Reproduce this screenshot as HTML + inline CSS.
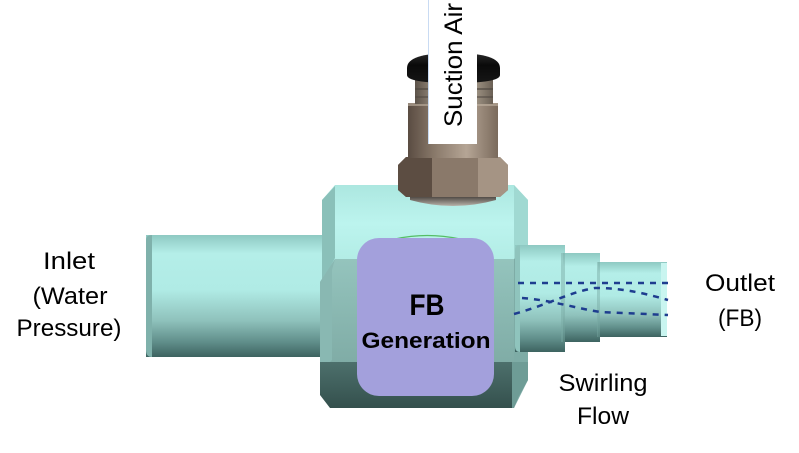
<!DOCTYPE html>
<html><head><meta charset="utf-8"><style>
html,body{margin:0;padding:0;background:#fff;}
svg{display:block;}
text{font-family:"Liberation Sans",Arial,sans-serif;}
</style></head><body>
<svg width="799" height="453" viewBox="0 0 799 453" xmlns="http://www.w3.org/2000/svg">
<defs>
<linearGradient id="pipeV" x1="0" y1="0" x2="0" y2="1">
<stop offset="0" stop-color="#8ec9c2"/>
<stop offset="0.15" stop-color="#b4eee8"/>
<stop offset="0.45" stop-color="#b0ebe5"/>
<stop offset="0.7" stop-color="#8fc2bc"/>
<stop offset="0.88" stop-color="#5f8d89"/>
<stop offset="1" stop-color="#3d6360"/>
</linearGradient>
<linearGradient id="topBlock" x1="0" y1="0" x2="0" y2="1">
<stop offset="0" stop-color="#ace7e0"/>
<stop offset="0.5" stop-color="#bcf4ee"/>
<stop offset="1" stop-color="#b2ece5"/>
</linearGradient>
<linearGradient id="hexFace" x1="0" y1="0" x2="0" y2="1">
<stop offset="0" stop-color="#94c4bd"/>
<stop offset="1" stop-color="#7eaaa4"/>
</linearGradient>
<linearGradient id="bottomFace" x1="0" y1="0" x2="0" y2="1">
<stop offset="0" stop-color="#4d706c"/>
<stop offset="1" stop-color="#34504d"/>
</linearGradient>
<linearGradient id="brownH" x1="0" y1="0" x2="1" y2="0">
<stop offset="0" stop-color="#5a4c42"/>
<stop offset="0.3" stop-color="#8a7a6b"/>
<stop offset="0.65" stop-color="#b5a595"/>
<stop offset="1" stop-color="#7a6a5c"/>
</linearGradient>
<linearGradient id="neckH" x1="0" y1="0" x2="1" y2="0">
<stop offset="0" stop-color="#5c534a"/>
<stop offset="0.3" stop-color="#a39686"/>
<stop offset="0.7" stop-color="#b0a493"/>
<stop offset="1" stop-color="#6a6055"/>
</linearGradient>
<linearGradient id="capG" x1="0" y1="0" x2="0" y2="1">
<stop offset="0" stop-color="#2a2a2a"/>
<stop offset="0.4" stop-color="#0a0a0a"/>
<stop offset="1" stop-color="#161616"/>
</linearGradient>
<linearGradient id="washer" x1="0" y1="0" x2="0" y2="1">
<stop offset="0" stop-color="#3b3530"/>
<stop offset="1" stop-color="#b8b2aa"/>
</linearGradient>
</defs>

<!-- Left inlet pipe -->
<rect x="146" y="235" width="190" height="122" fill="url(#pipeV)"/>
<path d="M146,240 Q146,235 152,235 L152,357 Q146,357 146,350 Z" fill="#7fb1ab"/>

<!-- Main body -->
<path d="M322,200 L335,185 L514,185 L528,200 L528,262 L322,262 Z" fill="url(#topBlock)"/>
<path d="M322,200 L335,186 L335,258 L322,282 Z" fill="#8ac0b9"/>
<path d="M514,185 L528,200 L528,262 L514,262 Z" fill="#a0d9d2"/>
<!-- hex face -->
<path d="M335,259 L514,259 L528,285 L528,372 L320,372 L320,282 Z" fill="url(#hexFace)"/>
<path d="M335,259 L320,282 L320,372 L332,360 L332,270 Z" fill="#89b8b2"/>
<!-- right facet -->
<path d="M514,259 L528,250 L528,380 L514,408 Z" fill="#7eaca6"/>
<path d="M500,372 L528,372 L514,408 L500,408 Z" fill="#6c9893"/>
<!-- bottom -->
<path d="M320,362 L514,362 L512,408 L330,408 L320,395 Z" fill="url(#bottomFace)"/>
<path d="M512,362 L528,362 L528,380 L512,408 Z" fill="#6e9c96"/>

<!-- Right outlet pipe -->
<rect x="515" y="245" width="50" height="107" fill="url(#pipeV)"/>
<path d="M515,250 Q515,245 520,245 L520,352 Q515,352 515,346 Z" fill="#8fc4bd"/>
<rect x="563" y="253" width="37" height="89" fill="url(#pipeV)"/>
<path d="M561,253 L565,253 L565,342 L561,342 Z" fill="#78a8a2" opacity="0.45"/>
<rect x="598" y="262" width="69" height="75" fill="url(#pipeV)"/>
<path d="M597,262 L600,262 L600,337 L597,337 Z" fill="#78a8a2" opacity="0.45"/>
<rect x="661" y="263" width="6" height="73" fill="#c9f5f0"/>
<!-- dashed swirl lines -->
<g fill="none" stroke="#1e3d8f" stroke-width="2.5" stroke-dasharray="6,6">
<path d="M518,283 L668,283"/>
<path d="M514,314 C550,304 570,292 595,288 C620,288 640,292 668,300"/>
<path d="M522,298 C550,300 575,308 600,312 L668,315"/>
</g>

<!-- Fitting washer -->
<path d="M410,195 L496,195 L496,200 Q453,212 410,200 Z" fill="url(#washer)"/>
<!-- Nut -->
<path d="M398,165 L406,157 L500,157 L508,165 L508,190 L500,197 L406,197 L398,190 Z" fill="#8d7d6d"/>
<path d="M398,165 L406,157 L432,157 L432,197 L406,197 L398,190 Z" fill="#5c4d42"/>
<path d="M478,157 L500,157 L508,165 L508,190 L500,197 L478,197 Z" fill="#a59484"/>
<rect x="432" y="157" width="46" height="40" fill="#8a796a"/>
<!-- Cylinder body -->
<rect x="408" y="103" width="90" height="55" fill="url(#brownH)"/>
<rect x="408" y="103" width="90" height="3" fill="#c2b4a4" opacity="0.6"/>
<!-- Neck -->
<rect x="415" y="80" width="78" height="24" fill="url(#neckH)"/>
<rect x="415" y="88" width="78" height="2" fill="#4d463f" opacity="0.6"/>
<rect x="415" y="96" width="78" height="2" fill="#4d463f" opacity="0.5"/>
<!-- Black cap -->
<path d="M407,68 Q407,53 453,53 Q500,53 500,68 L500,75 Q500,83 453,83 Q407,83 407,75 Z" fill="url(#capG)"/>

<!-- Suction Air label box -->
<rect x="428" y="0" width="49" height="144" fill="#ffffff"/>
<rect x="428" y="0" width="1" height="144" fill="#c9dbf3"/>
<text transform="translate(462,127) rotate(-90)" font-size="25" textLength="124" lengthAdjust="spacingAndGlyphs" fill="#000">Suction Air</text>

<!-- FB Generation box -->
<path d="M395,239 Q427,232 460,239" fill="none" stroke="#3cb043" stroke-width="1.2" opacity="0.8"/>
<rect x="357" y="238" width="137" height="158" rx="22" ry="22" fill="#a3a0dc"/>
<text x="427" y="315" font-size="30" font-weight="bold" text-anchor="middle" textLength="35" lengthAdjust="spacingAndGlyphs" fill="#000">FB</text>
<text x="426" y="348" font-size="22" font-weight="bold" text-anchor="middle" textLength="129" lengthAdjust="spacingAndGlyphs" fill="#000">Generation</text>

<!-- Labels -->
<g font-size="24" fill="#000" text-anchor="middle">
<text x="69" y="269" textLength="52" lengthAdjust="spacingAndGlyphs">Inlet</text>
<text x="70" y="304" textLength="75" lengthAdjust="spacingAndGlyphs">(Water</text>
<text x="69" y="336" textLength="105" lengthAdjust="spacingAndGlyphs">Pressure)</text>
<text x="740" y="291" textLength="70" lengthAdjust="spacingAndGlyphs">Outlet</text>
<text x="740" y="326" textLength="44" lengthAdjust="spacingAndGlyphs">(FB)</text>
<text x="603" y="391" textLength="89" lengthAdjust="spacingAndGlyphs">Swirling</text>
<text x="603" y="424" textLength="52" lengthAdjust="spacingAndGlyphs">Flow</text>
</g>
</svg>
</body></html>
